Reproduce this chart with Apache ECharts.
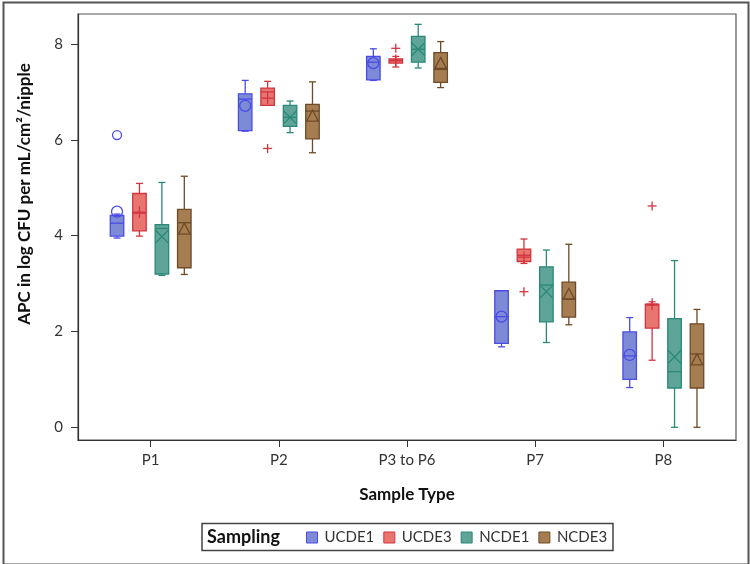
<!DOCTYPE html>
<html>
<head>
<meta charset="utf-8">
<script src="https://cdn.jsdelivr.net/npm/echarts@6/dist/echarts.min.js"></script>
<style>
  html, body { margin: 0; padding: 0; background: #fff; }
  #main { width: 750px; height: 564px; }
</style>
</head>
<body>
<div id="main"></div>
<script>
// categories on the x axis
var categories = ['P1', 'P2', 'P3 to P6', 'P7', 'P8'];
var yTicks = [0, 2, 4, 6, 8];
var groups = ['UCDE1', 'UCDE3', 'NCDE1', 'NCDE3'];

// per category: [lower whisker, Q1, median, Q3, upper whisker, mean]
var ucde1 = [
    [3.95, 3.99, 4.26, 4.42, 4.45, 4.50],
    [6.18, 6.19, 6.85, 6.96, 7.24, 6.71],
    [7.24, 7.25, 7.62, 7.74, 7.90, 7.60],
    [1.68, 1.75, 2.31, 2.85, 2.85, 2.31],
    [0.83, 1.00, 1.49, 1.99, 2.29, 1.51]
];
var ucde3 = [
    [3.99, 4.10, 4.47, 4.88, 5.09, 4.49],
    [6.72, 6.72, 7.00, 7.08, 7.22, 6.87],
    [7.52, 7.60, 7.65, 7.69, 7.74, 7.66],
    [3.42, 3.46, 3.59, 3.72, 3.93, 3.55],
    [1.40, 2.07, 2.55, 2.57, 2.62, 2.57]
];
var ncde1 = [
    [3.17, 3.20, 4.15, 4.23, 5.11, 3.98],
    [6.15, 6.28, 6.47, 6.72, 6.81, 6.47],
    [7.50, 7.62, 7.89, 8.16, 8.41, 7.89],
    [1.77, 2.20, 2.97, 3.35, 3.70, 2.83],
    [0.00, 0.82, 1.16, 2.27, 3.48, 1.47]
];
var ncde3 = [
    [3.19, 3.33, 4.27, 4.55, 5.24, 4.14],
    [5.73, 6.02, 6.60, 6.74, 7.21, 6.50],
    [7.09, 7.20, 7.47, 7.82, 8.05, 7.60],
    [2.14, 2.30, 2.68, 3.03, 3.82, 2.78],
    [0.00, 0.82, 1.53, 2.16, 2.46, 1.41]
];

// outliers: [category index, value]
var ucde1Out = [[0, 6.10]];
var ucde3Out = [[1, 5.82], [2, 7.91], [3, 2.83], [4, 4.62]];
var ncde1Out = [];
var ncde3Out = [];

var stats = [ucde1, ucde3, ncde1, ncde3];
var outs = [ucde1Out, ucde3Out, ncde1Out, ncde3Out];
var fills = ['#7d8ad6', '#e8766e', '#5fa597', '#a67d50'];
var strokes = ['#4b4be6', '#d2343f', '#2b8878', '#6e4a27'];
var markers = ['circle', 'plus', 'cross', 'triangle'];

var FONT = 'Lato, "Open Sans", sans-serif';

function marker(shape, cx, cy, r, color) {
    var st = { stroke: color, fill: 'none', lineWidth: 1.3 };
    if (shape === 'circle') {
        return { type: 'circle', shape: { cx: cx, cy: cy, r: r }, style: st };
    }
    if (shape === 'plus') {
        return { type: 'group', children: [
            { type: 'line', shape: { x1: cx - r, y1: cy, x2: cx + r, y2: cy }, style: st },
            { type: 'line', shape: { x1: cx, y1: cy - r, x2: cx, y2: cy + r }, style: st }
        ]};
    }
    if (shape === 'cross') {
        return { type: 'group', children: [
            { type: 'line', shape: { x1: cx - r, y1: cy - r, x2: cx + r, y2: cy + r }, style: st },
            { type: 'line', shape: { x1: cx - r, y1: cy + r, x2: cx + r, y2: cy - r }, style: st }
        ]};
    }
    return { type: 'polygon', shape: { points: [[cx, cy - r], [cx + r, cy + r * 0.9], [cx - r, cy + r * 0.9]] }, style: st };
}

function boxSeries(s) {
    return {
        name: groups[s],
        type: 'custom',
        itemStyle: { color: fills[s], borderColor: strokes[s] },
        data: stats[s].map(function (r, i) { return [i].concat(r); }),
        renderItem: function (params, api) {
            var cat = api.value(0);
            var unit = api.size([1, 0])[0];
            var dx = (s - 1.5) * 0.175 * unit;
            var hw = 0.0527 * unit;
            var x = api.coord([cat, 0])[0] + dx;
            var y = function (k) { return api.coord([cat, api.value(k)])[1]; };
            var lo = y(1), q1 = y(2), md = y(3), q3 = y(4), hi = y(5), mn = y(6);
            var st = { stroke: strokes[s], lineWidth: 1.3 };
            var msize = markers[s] === 'cross' ? 6.3 : (markers[s] === 'circle' ? 5.5 : 5.8);
            return { type: 'group', children: [
                { type: 'line', shape: { x1: x, y1: lo, x2: x, y2: q1 }, style: st },
                { type: 'line', shape: { x1: x, y1: q3, x2: x, y2: hi }, style: st },
                { type: 'line', shape: { x1: x - 3.5, y1: lo, x2: x + 3.5, y2: lo }, style: st },
                { type: 'line', shape: { x1: x - 3.5, y1: hi, x2: x + 3.5, y2: hi }, style: st },
                { type: 'rect', shape: { x: x - hw, y: q3, width: hw * 2, height: Math.max(q1 - q3, 1) },
                  style: { fill: fills[s], stroke: strokes[s], lineWidth: 1.3 } },
                { type: 'line', shape: { x1: x - hw, y1: md, x2: x + hw, y2: md }, style: st },
                marker(markers[s], x, mn, msize, strokes[s])
            ]};
        }
    };
}

function outlierSeries(s) {
    return {
        name: groups[s],
        type: 'custom',
        itemStyle: { color: fills[s], borderColor: strokes[s] },
        data: outs[s],
        renderItem: function (params, api) {
            var cat = api.value(0);
            var unit = api.size([1, 0])[0];
            var dx = (s - 1.5) * 0.175 * unit;
            var c = api.coord([cat, api.value(1)]);
            return marker(markers[s], c[0] + dx, c[1], 4.5, strokes[s]);
        }
    };
}

var chart = echarts.init(document.getElementById('main'));
var series = [];
for (var s = 0; s < 4; s++) {
    series.push(boxSeries(s));
    series.push(outlierSeries(s));
}

var option = {
    animation: false,
    grid: {
        left: 78, top: 14, right: 14, bottom: 124,
        show: true, borderColor: '#555', borderWidth: 1.2
    },
    xAxis: {
        type: 'value',
        min: -0.567, max: 4.567,
        splitLine: { show: false },
        axisLine: { onZero: false, lineStyle: { color: '#333', width: 1.2 } },
        axisTick: { customValues: [0, 1, 2, 3, 4], length: 7, lineStyle: { color: '#333' } },
        axisLabel: {
            customValues: [0, 1, 2, 3, 4], margin: 13,
            color: '#333', fontSize: 15, fontFamily: FONT,
            formatter: function (v) { return categories[Math.round(v)]; }
        }
    },
    yAxis: {
        type: 'value',
        min: -0.265, max: 8.626,
        splitLine: { show: false },
        axisLine: { show: true, onZero: false, lineStyle: { color: '#333', width: 1.2 } },
        axisTick: { show: true, customValues: yTicks, length: 7, lineStyle: { color: '#333' } },
        axisLabel: {
            customValues: yTicks, margin: 15,
            color: '#333', fontSize: 15, fontFamily: FONT
        }
    },
    legend: {
        left: 306, top: 530, padding: 0,
        icon: 'rect', itemWidth: 11, itemHeight: 11, itemGap: 9,
        selectedMode: false,
        textStyle: { color: '#333', fontSize: 15, fontFamily: FONT, padding: [0, 0, 0, 2] },
        data: groups.map(function (g, i) {
            return { name: g, itemStyle: { color: fills[i], borderColor: strokes[i], borderWidth: 1 } };
        })
    },
    graphic: [
        { type: 'rect', left: 1, top: 0, shape: { width: 745, height: 562 },
          style: { fill: 'none', stroke: '#555', lineWidth: 2 }, silent: true },
        { type: 'rect', shape: { x: 202, y: 523.5, width: 411, height: 27 },
          style: { fill: 'none', stroke: '#444', lineWidth: 1.5 }, silent: true },
        { type: 'text', x: 207, y: 537, style: { text: 'Sampling', fill: '#111',
          font: 'bold 18px ' + FONT, textVerticalAlign: 'middle' } },
        { type: 'text', x: 407, y: 495, style: { text: 'Sample Type', fill: '#111',
          font: 'bold 17px ' + FONT, textAlign: 'center', textVerticalAlign: 'middle' } },
        { type: 'text', x: 25, y: 194, rotation: Math.PI / 2,
          style: { text: 'APC in log CFU per mL/cm²/nipple', fill: '#111',
          font: 'bold 17px ' + FONT, textAlign: 'center', textVerticalAlign: 'middle' } }
    ],
    series: series
};
chart.setOption(option);
</script>
</body>
</html>
